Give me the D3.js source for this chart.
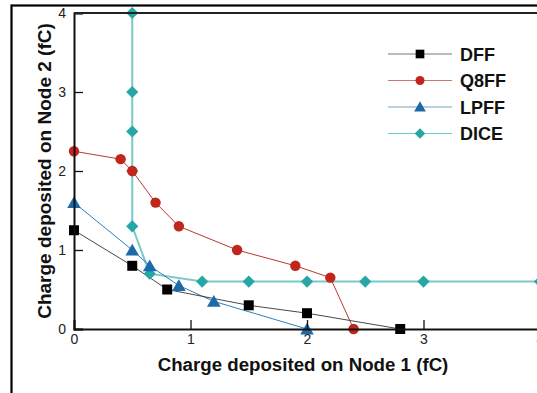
<!DOCTYPE html>
<html><head><meta charset="utf-8">
<script src="https://cdn.jsdelivr.net/npm/d3@7"></script>
<style>body{margin:0;background:#fff}svg{display:block}text{font-family:"Liberation Sans",Arial,sans-serif}</style>
</head><body>
<svg id="c" width="537" height="393"></svg>
<script>
const seriesNames = ["DFF", "Q8FF", "LPFF", "DICE"];
const dffX = [0, 0.5, 0.8, 1.5, 2.0, 2.8];
const dffY = [1.25, 0.8, 0.5, 0.3, 0.2, 0.0];
const q8ffX = [0, 0.4, 0.5, 0.7, 0.9, 1.4, 1.9, 2.2, 2.4];
const q8ffY = [2.25, 2.15, 2.0, 1.6, 1.3, 1.0, 0.8, 0.65, 0.0];
const lpffX = [0, 0.5, 0.65, 0.9, 1.2, 2.0];
const lpffY = [1.6, 1.0, 0.8, 0.55, 0.35, 0.0];
const diceX = [0.5, 0.5, 0.5, 0.5, 0.5, 0.65, 1.1, 1.5, 2.0, 2.5, 3.0, 4.0];
const diceY = [4.0, 3.0, 2.5, 2.0, 1.3, 0.7, 0.6, 0.6, 0.6, 0.6, 0.6, 0.6];
const xTicks = [0, 1, 2, 3, 4];
const yTicks = [0, 1, 2, 3, 4];
const xLabel = "Charge deposited on Node 1 (fC)";
const yLabel = "Charge deposited on Node 2 (fC)";

const svg = d3.select("#c");
const L = 74, T = 13, B = 329, R = 540;
const x = d3.scaleLinear().domain([0, 4]).range([L, R]);
const y = d3.scaleLinear().domain([0, 4]).range([B, T]);

// outer frame
svg.append("rect").attr("x", 11.5).attr("y", 5.5).attr("width", 600).attr("height", 500)
  .attr("fill", "none").attr("stroke", "#000").attr("stroke-width", 2.2);

const styles = [
  {line: "#333", lw: 0.9, fill: "#000", shape: d3.symbolSquare, size: 100, leg: "#777"},
  {line: "#b8392e", lw: 1, fill: "#c0261b", shape: d3.symbolCircle, size: 85, leg: "#c77"},
  {line: "#2f7fb8", lw: 1, fill: "#1c6aaa", shape: d3.symbolTriangle, size: 80, leg: "#7aa3c0"},
  {line: "#79c9c9", lw: 2, fill: "#27a6a6", shape: d3.symbolDiamond2, size: 95, leg: "#6cc"}
];
const data = [
  dffX.map((v, i) => [v, dffY[i]]),
  q8ffX.map((v, i) => [v, q8ffY[i]]),
  lpffX.map((v, i) => [v, lpffY[i]]),
  diceX.map((v, i) => [v, diceY[i]])
];

const line = d3.line().x(d => x(d[0])).y(d => y(d[1]));
const order = [3, 1, 2, 0];
order.forEach(k => {
  svg.append("path").attr("d", line(data[k])).attr("fill", "none")
    .attr("stroke", styles[k].line).attr("stroke-width", styles[k].lw);
});
order.forEach(k => {
  svg.selectAll(null).data(data[k]).enter().append("path")
    .attr("d", d3.symbol().type(styles[k].shape).size(styles[k].size))
    .attr("transform", d => `translate(${x(d[0])},${y(d[1]) + (k === 2 ? 1.5 : 0)})`)
    .attr("fill", styles[k].fill);
});

// axes
const xAxis = d3.axisBottom(x).tickValues(xTicks).tickSize(-9).tickPadding(5).tickFormat(d3.format("d"));
const gx = svg.append("g").attr("transform", `translate(0,${B})`).call(xAxis);
gx.select(".domain").attr("stroke", "#111").attr("stroke-width", 2);
gx.selectAll(".tick line").attr("stroke", "#111").attr("stroke-width", 1.3);
gx.selectAll(".tick text").attr("font-size", 14).attr("fill", "#222").attr("font-family", "Liberation Sans, Arial, sans-serif");

const yAxis = d3.axisLeft(y).tickValues(yTicks).tickSize(-9).tickPadding(8).tickFormat(d3.format("d"));
const gy = svg.append("g").attr("transform", `translate(${L},0)`).call(yAxis);
gy.select(".domain").attr("stroke", "#111").attr("stroke-width", 2);
gy.selectAll(".tick line").attr("stroke", "#111").attr("stroke-width", 1.3);
gy.selectAll(".tick text").attr("font-size", 14).attr("fill", "#222").attr("font-family", "Liberation Sans, Arial, sans-serif");

// top frame line of plot
svg.append("line").attr("x1", L).attr("x2", 537).attr("y1", T).attr("y2", T)
  .attr("stroke", "#222").attr("stroke-width", 2);

// axis labels
svg.append("text").attr("x", 303).attr("y", 371).attr("text-anchor", "middle")
  .attr("font-size", 18.7).attr("font-weight", "bold").attr("fill", "#111").text(xLabel);
svg.append("text").attr("transform", "translate(51,171) rotate(-90)").attr("text-anchor", "middle")
  .attr("font-size", 19).attr("font-weight", "bold").attr("fill", "#111").text(yLabel);

// legend
const lg = svg.append("g");
seriesNames.forEach((n, i) => {
  const yy = 54 + i * 26.5;
  lg.append("line").attr("x1", 388).attr("x2", 452).attr("y1", yy).attr("y2", yy)
    .attr("stroke", styles[i].leg).attr("stroke-width", 1.2);
  lg.append("path").attr("d", d3.symbol().type(styles[i].shape).size(styles[i].size * 0.75))
    .attr("transform", `translate(420,${yy + (i === 2 ? 1 : 0)})`).attr("fill", styles[i].fill);
  lg.append("text").attr("x", 460).attr("y", yy + 6.5).attr("font-size", 18)
    .attr("font-weight", "bold").attr("fill", "#111").text(n);
});
</script>
</body></html>
